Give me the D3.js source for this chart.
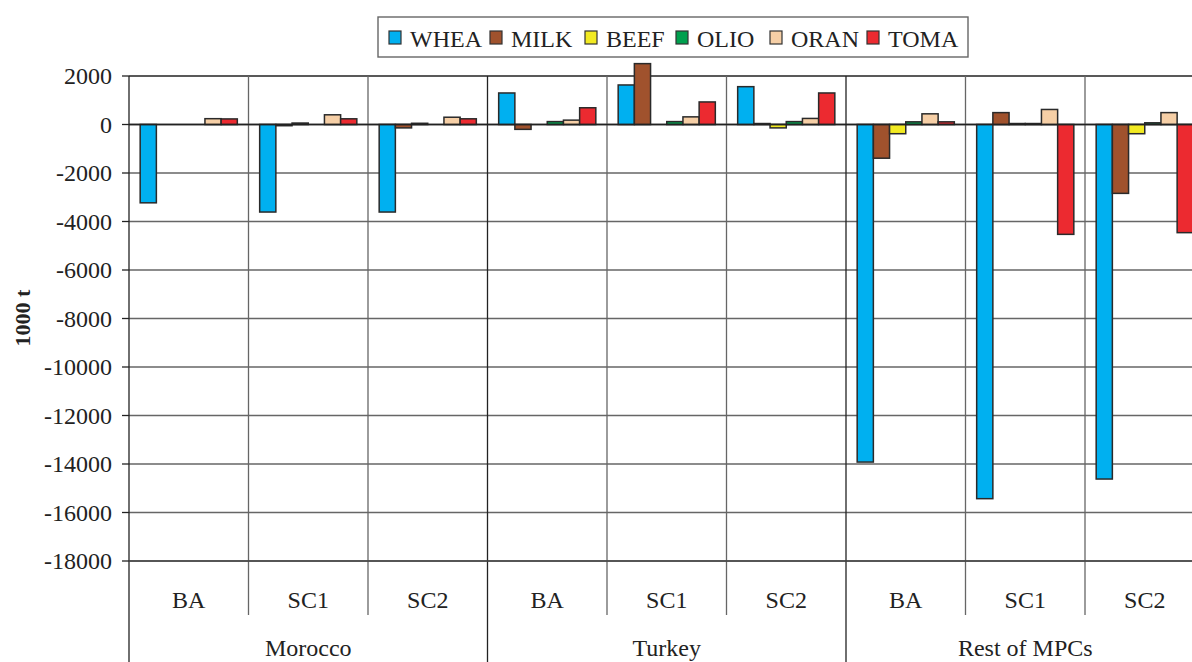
<!DOCTYPE html>
<html>
<head>
<meta charset="utf-8">
<script src="https://cdn.jsdelivr.net/npm/d3@7"></script>
<style>
  body { margin: 0; background: #fff; }
  svg text { font-family: "Liberation Serif", "Times New Roman", serif; fill: #222; }
</style>
</head>
<body>
<script>
var countries = ["Morocco", "Turkey", "Rest of MPCs"];
var scenarios = ["BA", "SC1", "SC2"];
var products = ["WHEA", "MILK", "BEEF", "OLIO", "ORAN", "TOMA"];
var colors = ["#00b0f0", "#a0522d", "#f2ea22", "#00a04e", "#f6cfa6", "#ec2a30"];
var yTicks = [2000, 0, -2000, -4000, -6000, -8000, -10000, -12000, -14000, -16000, -18000];

// one value per country/scenario: Morocco BA,SC1,SC2, Turkey BA,SC1,SC2, Rest BA,SC1,SC2
var whea = [-3230, -3610, -3610, 1300, 1630, 1560, -13920, -15430, -14620];
var milk = [0, -50, -140, -200, 2510, 40, -1390, 490, -2840];
var beef = [0, 60, 50, 0, 0, -140, -380, 40, -380];
var olio = [0, 0, 0, 120, 120, 120, 110, 40, 70];
var oran = [240, 400, 300, 180, 315, 250, 440, 620, 490];
var toma = [230, 235, 235, 690, 930, 1300, 110, -4530, -4460];
var series = [whea, milk, beef, olio, oran, toma];

var width = 1192, height = 662;

var svg = d3.select("body").append("svg")
    .attr("width", width)
    .attr("height", height);

var cats = [];
countries.forEach(function(c){
    scenarios.forEach(function(s){ cats.push(c + "|" + s); });
});

var left = 129, bw = 119.5;
var x = d3.scaleBand()
    .domain(cats)
    .range([left, left + bw * cats.length]);

var xi = d3.scaleBand()
    .domain(products)
    .range([0, x.bandwidth()])
    .paddingInner(0)
    .paddingOuter(0.69);

var y = d3.scaleLinear()
    .domain([-18000, 2000])
    .range([561, 76]);

// horizontal gridlines
svg.selectAll(".grid")
    .data(yTicks)
    .enter().append("line")
    .attr("x1", left).attr("x2", width)
    .attr("y1", function(d){ return y(d); })
    .attr("y2", function(d){ return y(d); })
    .attr("stroke", function(d){ return d === 0 || d === 2000 ? "#222" : "#666"; })
    .attr("stroke-width", 1.4);

// vertical separators in plot + below axis
for (var i = 1; i < cats.length; i++) {
    var xx = x(cats[i]);
    var grp = i % 3 === 0;
    svg.append("line")
        .attr("x1", xx).attr("x2", xx)
        .attr("y1", y(2000)).attr("y2", grp ? height : 615)
        .attr("stroke", grp ? "#222" : "#666")
        .attr("stroke-width", 1.3);
}

// bars
series.forEach(function(vals, k){
    svg.selectAll(".bar" + k)
        .data(vals)
        .enter().append("rect")
        .attr("x", function(d, i){ return x(cats[i]) + xi(products[k]); })
        .attr("width", xi.bandwidth())
        .attr("y", function(d){ return y(Math.max(0, d)); })
        .attr("height", function(d){ return Math.abs(y(d) - y(0)); })
        .attr("fill", colors[k])
        .attr("stroke", "#2a2a2a")
        .attr("stroke-width", 1.5);
});

// zero line on top
svg.append("line")
    .attr("x1", left).attr("x2", width)
    .attr("y1", y(0)).attr("y2", y(0))
    .attr("stroke", "#222").attr("stroke-width", 1.4);

// y axis
svg.append("line")
    .attr("x1", left).attr("x2", left)
    .attr("y1", y(2000)).attr("y2", height)
    .attr("stroke", "#222").attr("stroke-width", 1.3);

svg.selectAll(".ytick")
    .data(yTicks)
    .enter().append("line")
    .attr("x1", left - 7).attr("x2", left)
    .attr("y1", function(d){ return y(d); })
    .attr("y2", function(d){ return y(d); })
    .attr("stroke", "#222").attr("stroke-width", 1.3);

svg.selectAll(".ylab")
    .data(yTicks)
    .enter().append("text")
    .attr("x", 112)
    .attr("y", function(d){ return y(d) + 8; })
    .attr("text-anchor", "end")
    .style("font-size", "24px")
    .text(function(d){ return d; });

svg.append("text")
    .attr("transform", "translate(30,318) rotate(-90)")
    .attr("text-anchor", "middle")
    .style("font-size", "22px")
    .style("font-weight", "bold")
    .text("1000 t");

// x axis line
svg.append("line")
    .attr("x1", left).attr("x2", width)
    .attr("y1", y(-18000)).attr("y2", y(-18000))
    .attr("stroke", "#444").attr("stroke-width", 1.4);

// category labels
svg.selectAll(".xlab")
    .data(cats)
    .enter().append("text")
    .attr("x", function(d){ return x(d) + x.bandwidth() / 2; })
    .attr("y", 608)
    .attr("text-anchor", "middle")
    .style("font-size", "24px")
    .text(function(d){ return d.split("|")[1]; });

svg.selectAll(".glab")
    .data(countries)
    .enter().append("text")
    .attr("x", function(d, i){ return x(cats[i * 3 + 1]) + x.bandwidth() / 2; })
    .attr("y", 656)
    .attr("text-anchor", "middle")
    .style("font-size", "24px")
    .text(function(d){ return d; });

// legend
var legend = svg.append("g");
legend.append("rect")
    .attr("x", 378).attr("y", 17)
    .attr("width", 590).attr("height", 40)
    .attr("fill", "#fff")
    .attr("stroke", "#666").attr("stroke-width", 1.4);

var legX = [389, 490, 585, 676, 770, 867];
products.forEach(function(p, k){
    legend.append("rect")
        .attr("x", legX[k]).attr("y", 31)
        .attr("width", 12).attr("height", 13)
        .attr("fill", colors[k])
        .attr("stroke", "#333").attr("stroke-width", 1.2);
    legend.append("text")
        .attr("x", legX[k] + 21).attr("y", 47)
        .style("font-size", "24px")
        .text(p);
});
</script>
</body>
</html>
